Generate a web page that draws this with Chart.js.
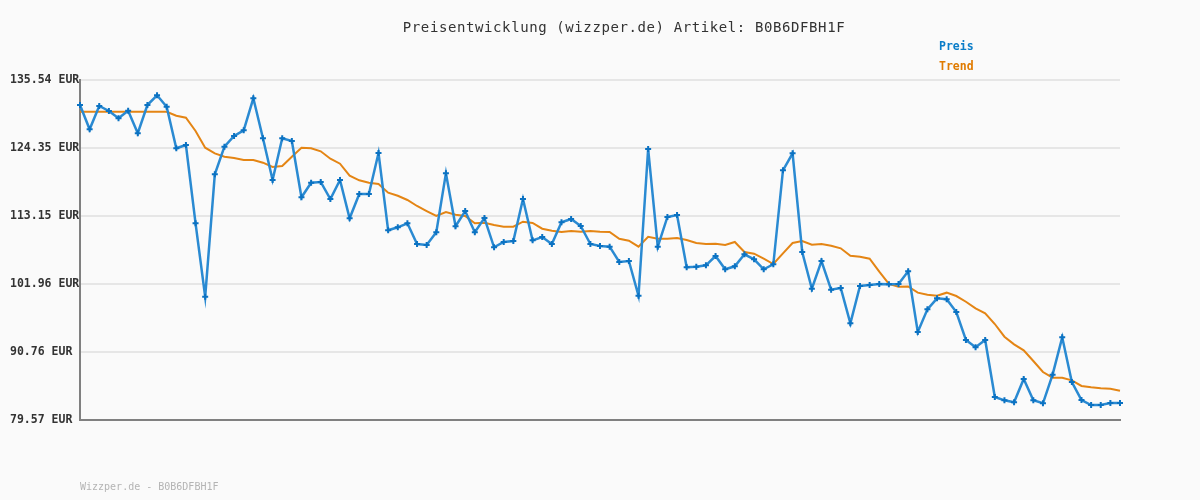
<!DOCTYPE html>
<html>
<head>
<meta charset="utf-8">
<script src="https://cdn.jsdelivr.net/npm/chart.js@4/dist/chart.umd.min.js"></script>
<style>
  html, body { margin: 0; padding: 0; background: #fafafa; }
  #wrap { width: 1200px; height: 500px; }
</style>
</head>
<body>
<div id="wrap"><canvas id="priceChart" width="1200" height="500"></canvas></div>
<script>
const titleText = "Preisentwicklung (wizzper.de) Artikel: B0B6DFBH1F";
const footerText = "Wizzper.de - B0B6DFBH1F";
const yTicks = [79.57, 90.76, 101.96, 113.15, 124.35, 135.54];

// Preis (EUR), one value per sample
const preis = [
  131.42, 127.42, 131.26, 130.44, 129.24, 130.49, 126.77, 131.42, 133.02, 131.14,
  124.30, 124.84, 111.95, 99.87, 120.02, 124.56, 126.32, 127.26, 132.53, 125.94,
  119.08, 125.94, 125.50, 116.23, 118.63, 118.75, 115.95, 119.08, 112.77, 116.77,
  116.77, 123.52, 110.80, 111.29, 111.95, 108.54, 108.38, 110.47, 120.18, 111.46,
  113.97, 110.47, 112.82, 108.00, 108.87, 109.04, 115.95, 109.15, 109.69, 108.54,
  112.11, 112.66, 111.51, 108.54, 108.21, 108.10, 105.58, 105.74, 100.03, 124.18,
  108.10, 112.99, 113.32, 104.71, 104.81, 105.04, 106.57, 104.38, 104.87, 106.85,
  106.02, 104.38, 105.20, 120.67, 123.47, 107.23, 101.18, 105.74, 101.02, 101.30,
  95.49, 101.63, 101.79, 101.96, 101.91, 101.96, 104.05, 94.06, 97.79, 99.60,
  99.44, 97.35, 92.74, 91.54, 92.74, 83.36, 82.81, 82.48, 86.32, 82.81,
  82.32, 87.03, 93.18, 85.83, 82.86, 82.04, 82.04, 82.37, 82.37
];

// Trend (EUR)
const trend = [
  130.32, 130.32, 130.32, 130.32, 130.32, 130.32, 130.32, 130.32, 130.32, 130.32,
  129.66, 129.33, 127.14, 124.40, 123.47, 122.91, 122.70, 122.37, 122.37, 121.93,
  121.22, 121.38, 122.91, 124.40, 124.30, 123.80, 122.58, 121.76, 119.79, 119.03,
  118.63, 118.42, 116.99, 116.49, 115.79, 114.80, 113.97, 113.15, 113.81, 113.37,
  113.15, 111.95, 112.05, 111.67, 111.39, 111.39, 112.21, 112.00, 111.06, 110.73,
  110.52, 110.68, 110.57, 110.68, 110.57, 110.52, 109.41, 109.09, 108.10, 109.74,
  109.41, 109.41, 109.53, 109.20, 108.71, 108.54, 108.59, 108.38, 108.87, 107.23,
  106.95, 106.12, 105.25, 107.01, 108.71, 109.04, 108.43, 108.54, 108.26, 107.83,
  106.62, 106.45, 106.12, 103.98, 101.96, 101.51, 101.55, 100.53, 100.20, 100.03,
  100.53, 99.98, 99.04, 97.96, 97.13, 95.37, 93.28, 92.03, 91.04, 89.28,
  87.47, 86.53, 86.53, 86.10, 85.17, 84.95, 84.79, 84.72, 84.39
];

const labels = preis.map((_, i) => String(i + 1));

const mono = "'DejaVu Sans Mono', 'Liberation Mono', monospace";

const textPlugin = {
  id: 'texts',
  beforeDraw(chart) {
    const c = chart.ctx;
    c.save();
    c.fillStyle = '#fafafa';
    c.fillRect(0, 0, chart.width, chart.height);
    c.restore();
  },
  afterDraw(chart) {
    const c = chart.ctx;
    c.save();
    c.textBaseline = 'middle';
    c.letterSpacing = '0.6px';
    c.font = "14px " + mono;
    c.fillStyle = '#333333';
    c.textAlign = 'center';
    c.fillText(titleText, 624, 28);
    c.letterSpacing = '0px';
    c.textAlign = 'left';
    c.font = "bold 11.5px " + mono;
    c.fillStyle = '#0b7dc8';
    c.fillText("Preis", 939, 47);
    c.fillStyle = '#e07b00';
    c.fillText("Trend", 939, 67);
    c.font = "10px " + mono;
    c.fillStyle = '#b4b4b4';
    c.fillText(footerText, 80, 487);
    c.restore();
  }
};

new Chart(document.getElementById('priceChart').getContext('2d'), {
  type: 'line',
  data: {
    labels: labels,
    datasets: [
      {
        label: 'Trend',
        data: trend,
        borderColor: '#e48514',
        borderWidth: 2,
        pointRadius: 0,
        tension: 0,
        order: 2
      },
      {
        label: 'Preis',
        data: preis,
        borderColor: '#2a8ad2',
        borderWidth: 2.5,
        pointStyle: 'cross',
        pointRadius: 3,
        pointBorderWidth: 2,
        pointBorderColor: '#0b72c2',
        pointBackgroundColor: '#0b72c2',
        tension: 0,
        order: 1
      }
    ]
  },
  options: {
    responsive: false,
    animation: false,
    layout: { padding: { left: 10, top: 80, right: 80, bottom: 80 } },
    plugins: {
      legend: { display: false },
      title: { display: false },
      tooltip: { enabled: false }
    },
    scales: {
      x: {
        ticks: { display: false },
        grid: { display: false },
        border: { display: true, color: '#808080', width: 2 },
        afterFit(s) { s.height = 0; }
      },
      y: {
        min: yTicks[0],
        max: yTicks[yTicks.length - 1],
        afterBuildTicks(s) { s.ticks = yTicks.map(v => ({ value: v })); },
        afterFit(s) { s.width = 70; },
        ticks: {
          crossAlign: 'far',
          padding: 0,
          color: '#333333',
          font: { family: mono, size: 11.5, weight: 'bold' },
          callback: v => v.toFixed(2) + ' EUR'
        },
        grid: { color: '#e6e6e6', lineWidth: 2, drawTicks: false },
        border: { display: true, color: '#808080', width: 2 }
      }
    }
  },
  plugins: [textPlugin]
});
</script>
</body>
</html>
